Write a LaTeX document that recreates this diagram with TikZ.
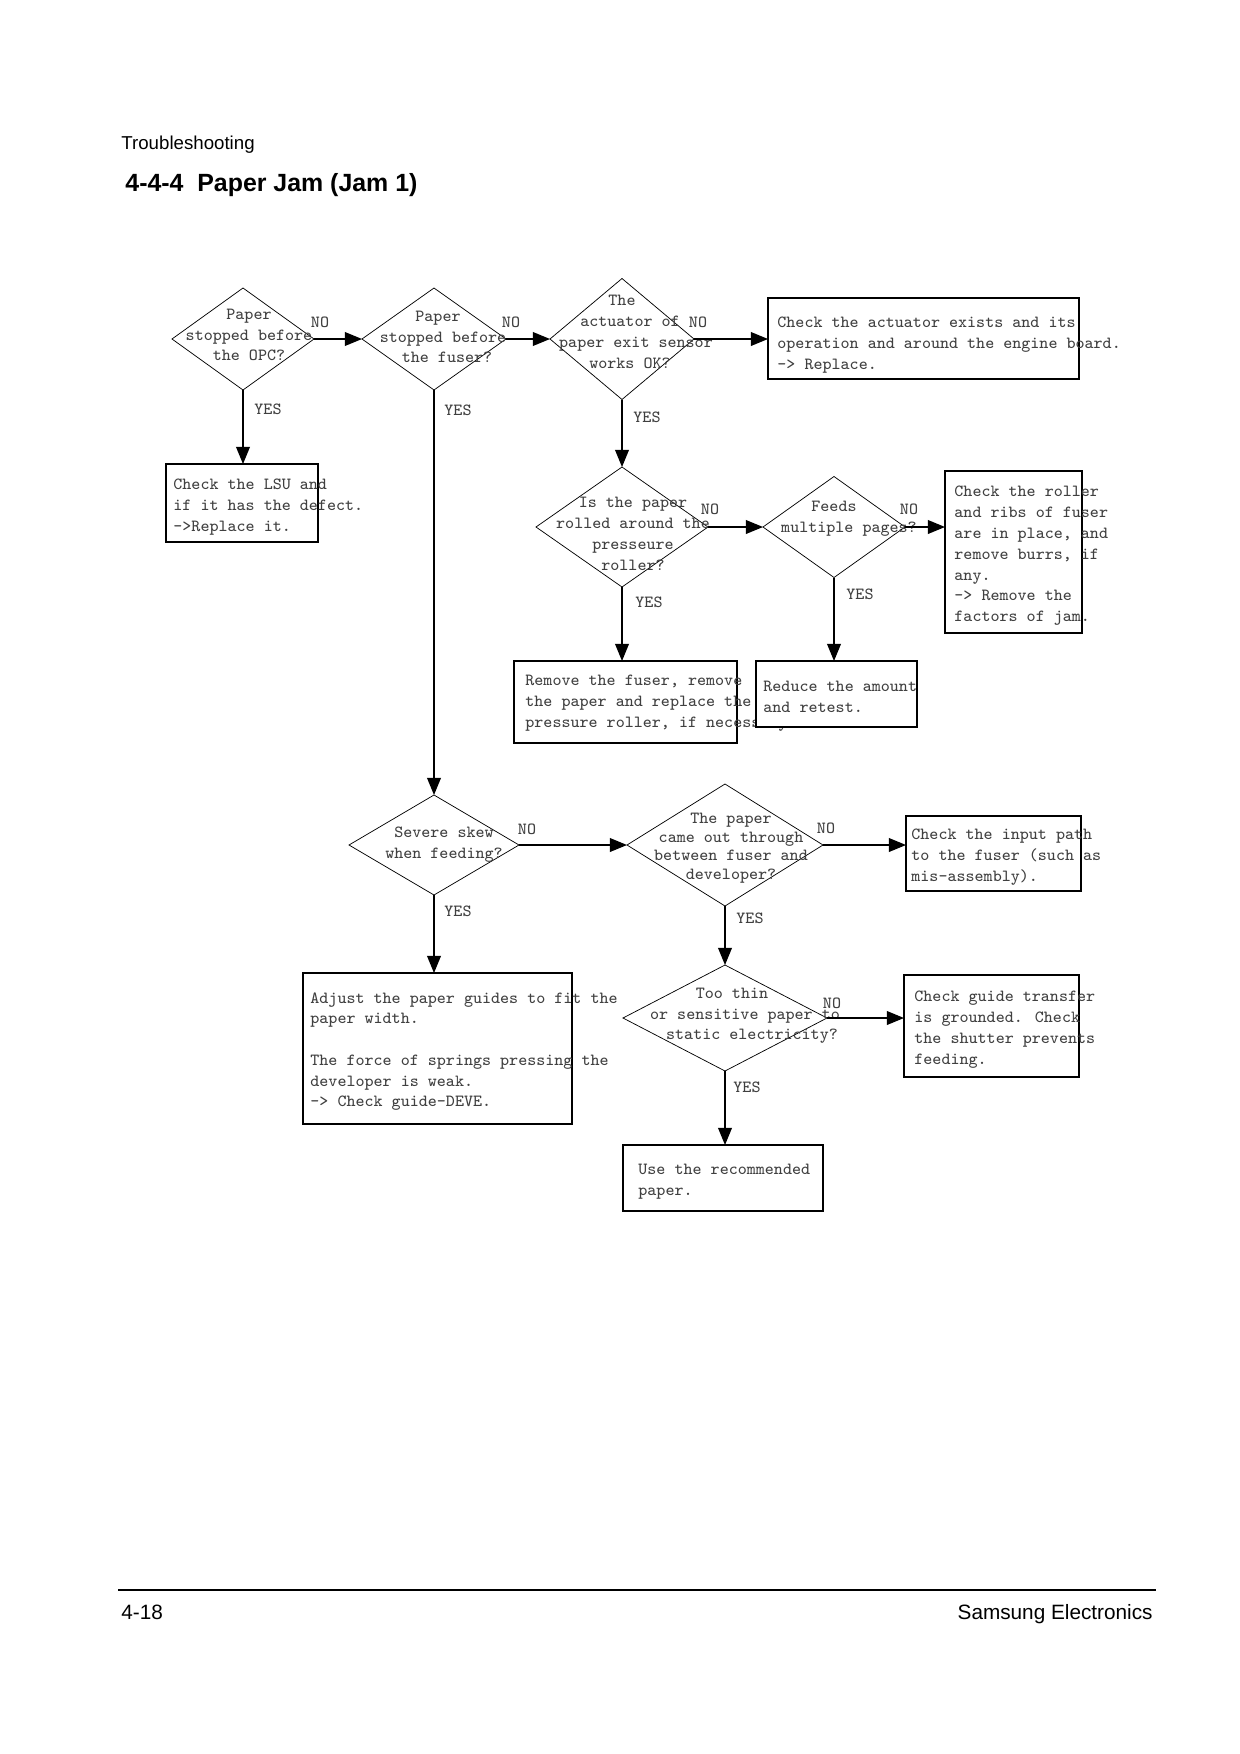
\documentclass[tikz,border=0pt]{standalone}
\usepackage{fontspec}
\setmainfont{Liberation Sans}
\usepackage{tikz}
\usetikzlibrary{arrows.meta, shapes.geometric, calc}

\newdimen\pxu
\pxu=0.48185pt
\newcommand\padq[1]{\hspace*{#1\pxu}}

\begin{document}
\begin{tikzpicture}[x=0.48185pt, y=-0.48185pt, >={Triangle[length=8.2pt, width=6.6pt]},
	flow/.style={->, line width=0.6pt},
	decision/.style={diamond, draw, line width=0.35pt, inner sep=0pt, outer sep=0pt},
	answer/.style={rectangle, draw, line width=0.6pt, inner sep=0pt, outer sep=0pt, anchor=north west},
	mono/.style={font=\ttfamily\fontsize{8.2}{10}\selectfont, text=black!75, inner sep=0pt},
	qtext/.style={mono, align=center, execute at begin node=\strut, execute at end node=\strut},
	btext/.style={mono, align=left, anchor=north west, execute at begin node=\strut},
	yesno/.style={mono},
	page/.style={inner sep=0pt, font=\fontsize{10}{12}\selectfont}]

		\useasboundingbox (0,0) rectangle (1240,1754);

		\node [page, anchor=base west, font=\fontsize{9}{11}\selectfont] (hdr) at (121,149) {Troubleshooting};
		\node [page, anchor=base west, font=\bfseries\fontsize{12}{14}\selectfont] (ttl) at (125,191) {4-4-4\ \ Paper Jam (Jam 1)};

		\node [decision, minimum width=142\pxu, minimum height=102\pxu] (d1) at (243,339) {};
		\node [decision, minimum width=144\pxu, minimum height=102\pxu] (d2) at (434,339) {};
		\node [decision, minimum width=144\pxu, minimum height=121\pxu] (d3) at (622,339) {};
		\node [decision, minimum width=172\pxu, minimum height=120\pxu] (d4) at (622,527) {};
		\node [decision, minimum width=142\pxu, minimum height=101\pxu] (d5) at (834,527) {};
		\node [decision, minimum width=170\pxu, minimum height=100\pxu] (d6) at (434,845) {};
		\node [decision, minimum width=196\pxu, minimum height=122\pxu] (d7) at (725,845) {};
		\node [decision, minimum width=204\pxu, minimum height=106\pxu] (d8) at (725,1018) {};

		\node [qtext] (q1) at (249,338) {Paper\\stopped before\\the OPC?};
		\node [qtext] (q2) at (443,340) {Paper\padq{10}\\stopped before\\\padq{8}the fuser?};
		\node [qtext] (q3) at (630,335) {The\padq{16}\\actuator of\\\padq{12}paper exit sensor\\works OK?};
		\node [qtext] (q4) at (633,537) {Is the paper\\rolled around the\\presseure\padq{12}\\roller?};
		\node [qtext] (q5) at (843,520) {Feeds\padq{18}\\\padq{12}multiple pages?};
		\node [qtext] (q6) at (444,846) {Severe skew\\when feeding?};
		\node [qtext, font=\ttfamily\fontsize{8.2}{9}\selectfont] (q7) at (731,849) {The paper\\came out through\\between fuser and\\developer?};
		\node [qtext] (q8) at (745,1017) {Too thin\padq{26}\\or sensitive paper to\\\padq{14}static electricity?};

		\node [answer, minimum width=152\pxu, minimum height=78\pxu] (lsu) at (166,464) {};
		\node [btext] (tlsu) at (173,479) {Check the LSU and\\if it has the defect.\\->Replace it.};

		\node [answer, minimum width=311\pxu, minimum height=81\pxu] (act) at (768,298) {};
		\node [btext] (tact) at (777,317) {Check the actuator exists and its\\operation and around the engine board.\\-> Replace.};

		\node [answer, minimum width=137\pxu, minimum height=162\pxu] (roller) at (945,471) {};
		\node [btext] (troller) at (954,486) {Check the roller\\and ribs of fuser\\are in place, and\\remove burrs, if\\any.\\-> Remove the\\factors of jam.};

		\node [answer, minimum width=223\pxu, minimum height=82\pxu] (remove) at (514,661) {};
		\node [btext] (tremove) at (525,675) {Remove the fuser, remove\\the paper and replace the\\pressure roller, if necessary.};

		\node [answer, fill=white, minimum width=161\pxu, minimum height=66\pxu] (reduce) at (756,661) {};
		\node [btext] (treduce) at (763,681) {Reduce the amount\\and retest.};

		\node [answer, minimum width=175\pxu, minimum height=75\pxu] (input) at (906,816) {};
		\node [btext] (tinput) at (911,829) {Check the input path\\to the fuser (such as\\mis-assembly).};

		\node [answer, minimum width=269\pxu, minimum height=151\pxu] (adjust) at (303,973) {};
		\node [btext] (tadjust) at (310,992) {Adjust the paper guides to fit the\\paper width.\\[10pt]The force of springs pressing the\\developer is weak.\\-> Check guide-DEVE.};

		\node [answer, minimum width=175\pxu, minimum height=102\pxu] (guide) at (904,975) {};
		\node [btext] (tguide) at (914,991) {Check guide transfer\\is grounded. Check\\the shutter prevents\\feeding.};

		\node [answer, minimum width=200\pxu, minimum height=66\pxu] (usep) at (623,1145) {};
		\node [btext] (tusep) at (638,1164) {Use the recommended\\paper.};

		\draw [flow] (d1.east) -- (d2.west);
		\draw [flow] (d2.east) -- (d3.west);
		\draw [flow] (d3.east) -- (d3.east -| act.west);
		\draw [flow] (d1.south) -- (d1.south |- lsu.north);
		\draw [flow] (d3.south) -- (d4.north);
		\draw [flow] (d4.east) -- (d5.west);
		\draw [flow] (d5.east) -- (d5.east -| roller.west);
		\draw [flow] (d4.south) -- (d4.south |- remove.north);
		\draw [flow] (d5.south) -- (d5.south |- reduce.north);
		\draw [flow] (d2.south) -- (d6.north);
		\draw [flow] (d6.east) -- (d7.west);
		\draw [flow] (d7.east) -- (d7.east -| input.west);
		\draw [flow] (d6.south) -- (d6.south |- adjust.north);
		\draw [flow] (d7.south) -- (d8.north);
		\draw [flow] (d8.east) -- (d8.east -| guide.west);
		\draw [flow] (d8.south) -- (d8.south |- usep.north);

		\node [yesno] (n1) at (320,322) {NO};
		\node [yesno] (y1) at (268,409) {YES};
		\node [yesno] (n2) at (511,322) {NO};
		\node [yesno] (y2) at (458,410) {YES};
		\node [yesno] (n3) at (698,322) {NO};
		\node [yesno] (y3) at (647,417) {YES};
		\node [yesno] (n4) at (710,509) {NO};
		\node [yesno] (y4) at (649,602) {YES};
		\node [yesno] (n5) at (909,509) {NO};
		\node [yesno] (y5) at (860,594) {YES};
		\node [yesno] (n6) at (527,829) {NO};
		\node [yesno] (y6) at (458,911) {YES};
		\node [yesno] (n7) at (826,828) {NO};
		\node [yesno] (y7) at (750,918) {YES};
		\node [yesno] (n8) at (832,1003) {NO};
		\node [yesno] (y8) at (747,1087) {YES};

		\draw [line width=0.6pt] (118,1590) -- (1156,1590);
		\node [page, anchor=base west] (pg) at (121,1619) {4-18};
		\node [page, anchor=base east] (co) at (1153,1619) {Samsung Electronics};

\end{tikzpicture}
\end{document}
